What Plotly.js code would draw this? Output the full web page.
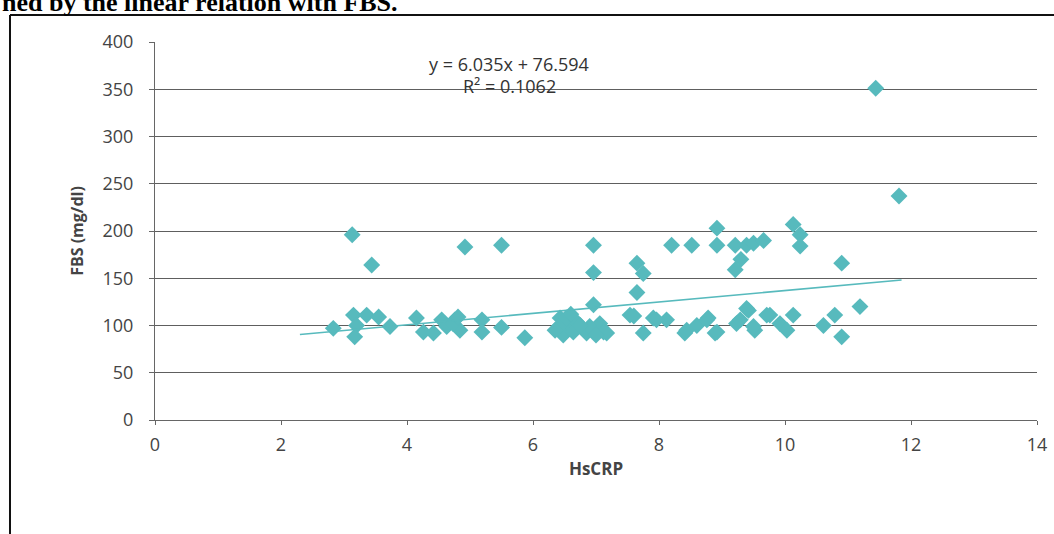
<!DOCTYPE html>
<html>
<head>
<meta charset="utf-8">
<script src="https://cdn.plot.ly/plotly-3.0.1.min.js"></script>
<style>html,body{margin:0;padding:0;background:#fff;}#chart{width:1054px;height:534px;}</style>
</head>
<body>
<div id="chart"></div>
<script>
// HsCRP values (x)
const hscrp = [
  2.83, 3.15, 3.2, 3.17, 3.36, 3.55, 3.73, 4.15, 4.26, 4.42, 4.55, 4.63, 4.76, 4.84, 4.73, 4.81,
  5.19, 5.19, 5.5, 5.87,
  3.13, 3.44, 4.92, 5.5, 6.96, 6.96, 7.65, 7.75, 7.65, 8.2, 8.52, 8.92, 8.92, 9.21, 9.39, 9.5, 9.66,
  9.3, 9.21, 10.13, 10.24, 10.24, 10.9, 11.44, 11.81,
  6.43, 6.53, 6.48, 6.69, 6.85, 6.96, 7.06, 7.17, 7.54, 7.75, 7.91, 8.12, 8.41, 8.6, 8.78, 8.89,
  9.23, 9.42, 9.52, 9.76, 9.92, 10.13, 10.03, 10.61, 10.79, 10.9, 11.19,
  6.43, 6.53, 6.64, 6.9, 7.12, 7.96, 8.44, 8.76, 8.92, 9.39, 9.29, 9.5, 9.71,
  7.0, 6.35, 6.6, 6.75, 7.6
];
// FBS values (y, mg/dl)
const fbs = [
  97, 111, 100, 88, 111, 109, 99, 108, 93, 92, 106, 99, 106, 95, 102, 109,
  106, 93, 98, 87,
  196, 164, 183, 185, 185, 156, 166, 155, 135, 185, 185, 203, 185, 185, 185, 187, 190,
  170, 159, 207, 196, 184, 166, 351, 237,
  108, 99, 90, 104, 92, 122, 102, 92, 111, 92, 108, 106, 92, 100, 108, 92,
  102, 116, 95, 111, 102, 111, 95, 100, 111, 88, 120,
  100, 108, 93, 99, 93, 106, 95, 106, 93, 118, 106, 99, 111,
  90, 95, 112, 100, 110
];
// Linear trendline end points as drawn
const trendX = [2.3, 11.85];
const trendY = [90.5, 148.1];
// Axis ticks
const xTicks = [0, 2, 4, 6, 8, 10, 12, 14];
const yTicks = [0, 50, 100, 150, 200, 250, 300, 350, 400];
const eqText = 'y = 6.035x + 76.594';
const r2Text = 'R² = 0.1062';
const headerText = 'ned by the linear relation with FBS.';

const teal = '#57BABD';
const sans = '"Open Sans", Lato, "Noto Sans", sans-serif';
const tickFont = {family: sans, size: 18, color: '#444'};

const traces = [
  {
    x: hscrp, y: fbs, type: 'scatter', mode: 'markers',
    marker: {symbol: 'diamond', size: 13, color: teal, line: {width: 0}},
    hoverinfo: 'x+y', showlegend: false
  },
  {
    x: trendX, y: trendY, type: 'scatter', mode: 'lines',
    line: {color: teal, width: 1.6}, hoverinfo: 'skip', showlegend: false
  }
];

const layout = {
  width: 1054, height: 534,
  margin: {l: 155, r: 17, t: 42, b: 114},
  paper_bgcolor: '#fff', plot_bgcolor: '#fff',
  showlegend: false,
  xaxis: {
    range: [0, 14], tickvals: xTicks, ticktext: xTicks.map(String),
    showgrid: false, zeroline: false,
    showline: true, linecolor: '#666', linewidth: 1,
    ticks: 'outside', ticklen: 4, tickcolor: '#666',
    tickfont: tickFont, ticklabelstandoff: 4,
    title: {text: '<b>HsCRP</b>', font: {family: sans, size: 17, color: '#444'}, standoff: 8},
    automargin: false
  },
  yaxis: {
    range: [0, 400], tickvals: yTicks, ticktext: yTicks.map(String),
    showgrid: true, gridcolor: '#5e5e5e', gridwidth: 1,
    zeroline: false,
    showline: true, linecolor: '#666', linewidth: 1,
    ticks: 'outside', ticklen: 5, tickcolor: '#666',
    tickfont: tickFont, ticklabelstandoff: 12,
    title: {text: '<b>FBS (mg/dl)</b>', font: {family: sans, size: 16, color: '#444'}, standoff: 14},
    automargin: false
  },
  annotations: [
    {xref: 'x', yref: 'y', x: 5.62, y: 377, text: eqText, showarrow: false,
     font: {family: sans, size: 18, color: '#333'}, xanchor: 'center', yanchor: 'middle'},
    {xref: 'x', yref: 'y', x: 5.62, y: 353, text: r2Text, showarrow: false,
     font: {family: sans, size: 18, color: '#333'}, xanchor: 'center', yanchor: 'middle'},
    {xref: 'paper', yref: 'paper', x: -0.1757, y: 1.0606, text: '<b>' + headerText + '</b>', showarrow: false,
     font: {family: '"Liberation Serif", "Times New Roman", serif', size: 26, color: '#000'}, xanchor: 'left', yanchor: 'bottom'}
  ],
  shapes: [
    {type: 'line', xref: 'paper', yref: 'paper', x0: -0.1644, x1: -0.1644, y0: 1.0714, y1: -0.31, line: {color: '#111', width: 2}},
    {type: 'line', xref: 'paper', yref: 'paper', x0: -0.1644, x1: 1.03, y0: 1.0714, y1: 1.0714, line: {color: '#111', width: 2}}
  ]
};

Plotly.newPlot('chart', traces, layout, {staticPlot: true, displayModeBar: false});
</script>
</body>
</html>
